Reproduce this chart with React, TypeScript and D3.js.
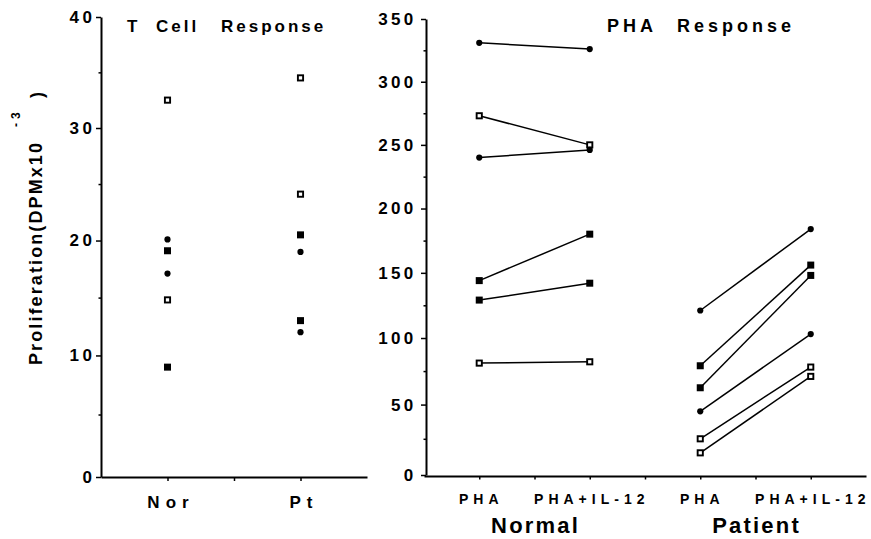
import React, { useEffect, useRef } from "react";
import * as d3 from "d3";

const W = 871;
const H = 539;

// ---- Left panel: T Cell Response ----
const tcellCategories = ["Nor", "Pt"];
const tcellTicks = [0, 10, 20, 30, 40];
const tcellMinorTicks = [5, 15, 25, 35];
const norOpenSquare = [32.5, 14.8];
const norFilledSquare = [19.1, 9.0];
const norCircle = [20.1, 17.1];
const ptOpenSquare = [34.5, 24.1];
const ptFilledSquare = [20.5, 13.0];
const ptCircle = [19.0, 12.0];

// ---- Right panel: PHA Response ----
const phaConditions = ["PHA", "PHA+IL-12"];
const phaGroups = ["Normal", "Patient"];
const phaTicks = [0, 50, 100, 150, 200, 250, 300, 350];
const phaMinorTicks = [25, 75, 125, 175, 225, 275, 325];
const normalPHA = [331, 273, 240, 144, 129, 81];
const normalIL12 = [326, 250, 246, 180, 142, 82];
const normalMarkers = ["circle", "open", "circle", "filled", "filled", "open"];
const patientPHA = [121, 79, 62.5, 45, 25, 15];
const patientIL12 = [184, 156, 148, 103, 78, 71];
const patientMarkers = ["circle", "filled", "filled", "circle", "open", "open"];

const FONT = "'Liberation Sans', Arial, Helvetica, sans-serif";

export default function App() {
  const ref = useRef<SVGSVGElement>(null);

  useEffect(() => {
    const svg = d3.select(ref.current);
    svg.selectAll("*").remove();
    svg.append("rect").attr("width", W).attr("height", H).attr("fill", "#fff");

    const xL = d3.scaleLinear().domain([0, 4]).range([101, 367]);
    const yL = d3.scalePow().exponent(0.96).domain([0, 40]).range([477, 17]);
    const xR = d3.scaleLinear().domain([0, 8]).range([424, 866]);
    const yR = d3.scalePow().exponent(0.96).domain([0, 350]).range([475, 19]);

    const styleAxis = (g: any, fontSize: number, ls: number) => {
      g.select(".domain").attr("stroke", "#000").attr("stroke-width", 2);
      g.selectAll(".tick line").attr("stroke", "#000").attr("stroke-width", 1.5);
      g.selectAll(".tick text")
        .attr("fill", "#000")
        .attr("font-family", FONT)
        .attr("font-weight", "bold")
        .attr("font-size", fontSize)
        .attr("letter-spacing", ls);
    };

    const drawMarker = (g: any, type: string, x: number, y: number) => {
      if (type === "circle") {
        g.append("circle").attr("cx", x).attr("cy", y).attr("r", 3.1).attr("fill", "#000");
      } else if (type === "filled") {
        g.append("rect").attr("x", x - 3.5).attr("y", y - 3.5).attr("width", 7).attr("height", 7).attr("fill", "#000");
      } else {
        g.append("rect").attr("x", x - 2.6).attr("y", y - 2.6).attr("width", 5.2).attr("height", 5.2)
          .attr("fill", "#fff").attr("stroke", "#000").attr("stroke-width", 1.9);
      }
    };

    // ---------- Left panel axes ----------
    const gLy = svg.append("g").attr("transform", "translate(101,0)");
    gLy.call(
      d3.axisLeft(yL).tickValues(tcellTicks).tickSize(5).tickPadding(0.5).tickSizeOuter(0).tickFormat(d3.format("d"))
    );
    styleAxis(gLy, 17, 3.5);
    const gLyMinor = svg.append("g").attr("transform", "translate(101,0)");
    gLyMinor.call(d3.axisLeft(yL).tickValues(tcellMinorTicks).tickSize(2.5).tickSizeOuter(0).tickFormat(() => ""));
    gLyMinor.select(".domain").remove();
    styleAxis(gLyMinor, 17, 0);

    const gLx = svg.append("g").attr("transform", "translate(0,477)");
    gLx.call(
      d3.axisBottom(xL).tickValues([1, 2, 3]).tickSize(4).tickPadding(15).tickSizeOuter(0)
        .tickFormat((d: any) => (d === 1 ? tcellCategories[0] : d === 3 ? tcellCategories[1] : ""))
    );
    styleAxis(gLx, 17, 6);
    gLx.selectAll(".tick text").attr("dx", 3);

    // ---------- Left panel points ----------
    const gLp = svg.append("g");
    const leftSets: [number, string, number[]][] = [
      [1, "open", norOpenSquare],
      [1, "filled", norFilledSquare],
      [1, "circle", norCircle],
      [3, "open", ptOpenSquare],
      [3, "filled", ptFilledSquare],
      [3, "circle", ptCircle],
    ];
    leftSets.forEach(([xi, type, vals]) => {
      vals.forEach((v) => drawMarker(gLp, type, xL(xi), yL(v)));
    });

    // Left title
    const tTitle = svg.append("text")
      .attr("y", 32).attr("font-family", FONT).attr("font-weight", "bold")
      .attr("font-size", 17).attr("letter-spacing", 3).attr("fill", "#000");
    tTitle.append("tspan").attr("x", 127).text("T");
    tTitle.append("tspan").attr("x", 156).text("Cell");
    tTitle.append("tspan").attr("x", 221).text("Response");

    // Y axis label
    svg.append("text")
      .attr("transform", "translate(42,365) rotate(-90)")
      .attr("font-family", FONT).attr("font-weight", "bold").attr("font-size", 18)
      .attr("textLength", 222).attr("lengthAdjust", "spacing")
      .attr("fill", "#000")
      .text("Proliferation(DPMx10");
    svg.append("text")
      .attr("transform", "translate(20,127) rotate(-90)")
      .attr("font-family", FONT).attr("font-weight", "bold").attr("font-size", 12)
      .attr("letter-spacing", 4).attr("fill", "#000")
      .text("-3");
    svg.append("text")
      .attr("transform", "translate(43,98) rotate(-90)")
      .attr("font-family", FONT).attr("font-weight", "bold").attr("font-size", 18)
      .attr("fill", "#000")
      .text(")");

    // ---------- Right panel axes ----------
    const gRy = svg.append("g").attr("transform", "translate(426,0)");
    gRy.call(
      d3.axisLeft(yR).tickValues(phaTicks).tickSize(5).tickPadding(4.5).tickSizeOuter(0).tickFormat(d3.format("d"))
    );
    styleAxis(gRy, 17, 3.3);
    const gRyMinor = svg.append("g").attr("transform", "translate(426,0)");
    gRyMinor.call(d3.axisLeft(yR).tickValues(phaMinorTicks).tickSize(2.5).tickSizeOuter(0).tickFormat(() => ""));
    gRyMinor.select(".domain").remove();
    styleAxis(gRyMinor, 17, 0);

    const condLabel = (d: any) =>
      d === 1 || d === 5 ? phaConditions[0] : d === 3 || d === 7 ? phaConditions[1] : "";
    const gRx = svg.append("g").attr("transform", "translate(0,476)");
    gRx.call(
      d3.axisBottom(xR).tickValues([1, 2, 3, 4, 5, 6, 7]).tickSize(3.5).tickPadding(14.5).tickSizeOuter(0)
        .tickFormat(condLabel)
    );
    styleAxis(gRx, 14, 5);
    gRx.selectAll(".tick text").attr("dx", 1.5);

    // Group labels
    [[2, phaGroups[0]], [6, phaGroups[1]]].forEach(([xi, label]: any) => {
      svg.append("text")
        .attr("x", xR(xi) + 1.1).attr("y", 533)
        .attr("text-anchor", "middle")
        .attr("font-family", FONT).attr("font-weight", "bold").attr("font-size", 22)
        .attr("letter-spacing", 2.2).attr("fill", "#000")
        .text(label);
    });

    // Right title
    const pTitle = svg.append("text")
      .attr("y", 32).attr("font-family", FONT).attr("font-weight", "bold")
      .attr("font-size", 18).attr("letter-spacing", 4).attr("fill", "#000");
    pTitle.append("tspan").attr("x", 607).text("PHA");
    pTitle.append("tspan").attr("x", 677).text("Response");

    // ---------- Right panel lines and markers ----------
    const line = d3.line<[number, number]>().x((d) => d[0]).y((d) => d[1]);
    const gR = svg.append("g");
    const pairs: [number, number, number[], number[], string[]][] = [
      [1, 3, normalPHA, normalIL12, normalMarkers],
      [5, 7, patientPHA, patientIL12, patientMarkers],
    ];
    pairs.forEach(([xa, xb, va, vb]) => {
      va.forEach((v, i) => {
        gR.append("path")
          .attr("d", line([[xR(xa), yR(v)], [xR(xb), yR(vb[i])]]))
          .attr("stroke", "#000").attr("stroke-width", 1.5).attr("fill", "none");
      });
    });
    pairs.forEach(([xa, xb, va, vb, marks]) => {
      va.forEach((v, i) => {
        drawMarker(gR, marks[i], xR(xa), yR(v));
        drawMarker(gR, marks[i], xR(xb), yR(vb[i]));
      });
    });
  }, []);

  return (
    <svg
      ref={ref}
      width={W}
      height={H}
      style={{ position: "absolute", left: 0, top: 0, display: "block" }}
    />
  );
}
